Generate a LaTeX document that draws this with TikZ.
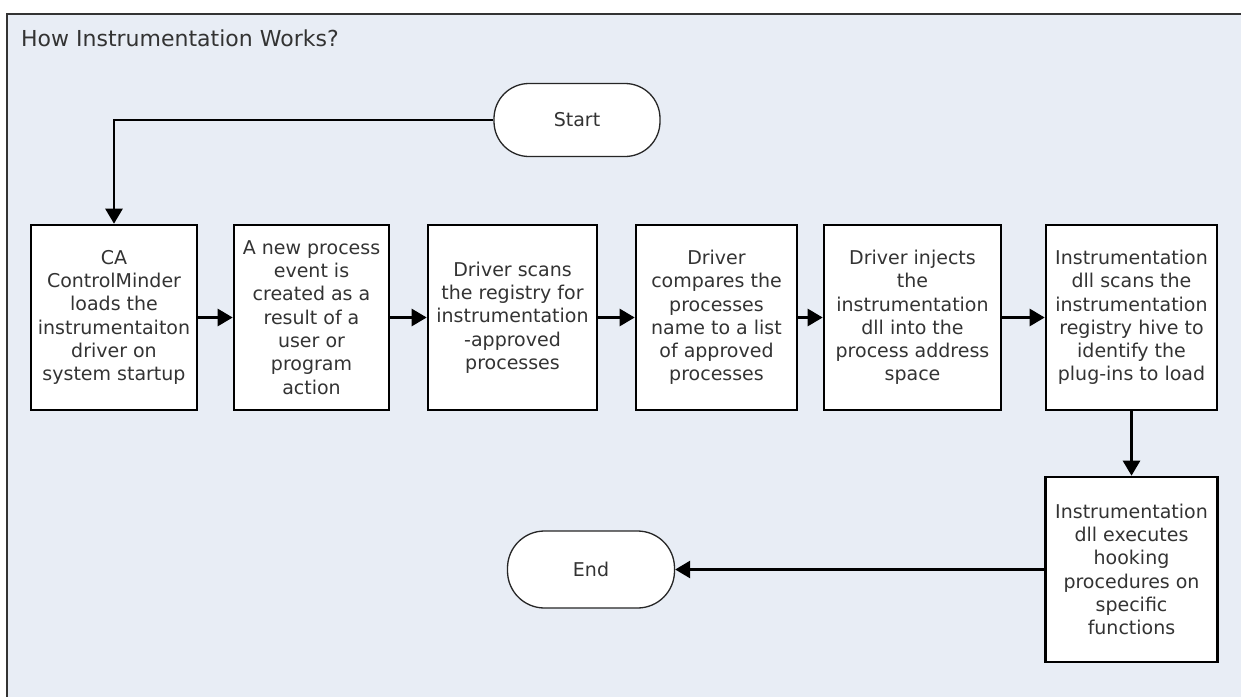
\documentclass[tikz,border=0pt]{standalone}
\usepackage{fontspec}
\setmainfont{DejaVu Sans}
\usetikzlibrary{arrows.meta}
\definecolor{bgfill}{HTML}{E8EDF5}
\definecolor{txt}{HTML}{333333}
\definecolor{frame}{HTML}{333333}
\tikzset{
  stepbox/.style={draw=black, fill=white, line width=2.6pt, align=center,
    inner sep=0pt, minimum height=185pt, text=txt,
    font=\fontsize{19}{23.3}\selectfont},
  terminal/.style={draw=black!85, fill=white, line width=1.3pt, rounded corners=35pt,
    minimum width=166pt, minimum height=73pt, inner sep=0pt, text=txt,
    font=\fontsize{19}{23}\selectfont},
  conn/.style={draw=black, line width=2.6pt, -{Triangle[length=15pt,width=17pt]}},
}
\begin{document}
\begin{tikzpicture}[x=1pt,y=-1pt]
\useasboundingbox (0,0) rectangle (1241,696);
\fill[bgfill] (7,14) rectangle (1245,700);
\draw[frame, line width=2.2pt] (7,700) -- (7,14) -- (1245,14);
\node[anchor=base west, text=txt, font=\fontsize{22}{26}\selectfont, inner sep=0pt] (title) at (21,46.5) {How Instrumentation Works?};

\node[terminal] (start) at (577,120) {Start};
\node[terminal, minimum width=167pt, minimum height=77pt, rounded corners=37pt] (end) at (591,569.5) {End};

\node[stepbox, minimum width=166pt] (b1) at (114,317.5) {CA\\ControlMinder\\loads the\\instrumentaiton\\driver on\\system startup};
\node[stepbox, minimum width=155pt] (b2) at (311.5,317.5) {A new process\\event is\\created as a\\result of a\\user or\\program\\action};
\node[stepbox, minimum width=169pt] (b3) at (512.5,317.5) {Driver scans\\the registry for\\instrumentation\\-approved\\processes};
\node[stepbox, minimum width=161pt] (b4) at (716.5,317.5) {Driver\\compares the\\processes\\name to a list\\of approved\\processes};
\node[stepbox, minimum width=177pt] (b5) at (912.5,317.5) {Driver injects\\the\\instrumentation\\dll into the\\process address\\space};
\node[stepbox, minimum width=171pt] (b6) at (1131.5,317.5) {Instrumentation\\dll scans the\\instrumentation\\registry hive to\\identify the\\plug-ins to load};
\node[stepbox, minimum width=172pt] (b7) at (1131.5,569.5) {Instrumentation\\dll executes\\hooking\\procedures on\\specific\\functions};

\draw[conn] (start.west) -| (b1.north);
\draw[conn] (b1) -- (b2);
\draw[conn] (b2) -- (b3);
\draw[conn] (b3) -- (b4);
\draw[conn] (b4) -- (b5);
\draw[conn] (b5) -- (b6);
\draw[conn] (b6) -- (b7);
\draw[conn] (b7) -- (end);
\end{tikzpicture}
\end{document}
